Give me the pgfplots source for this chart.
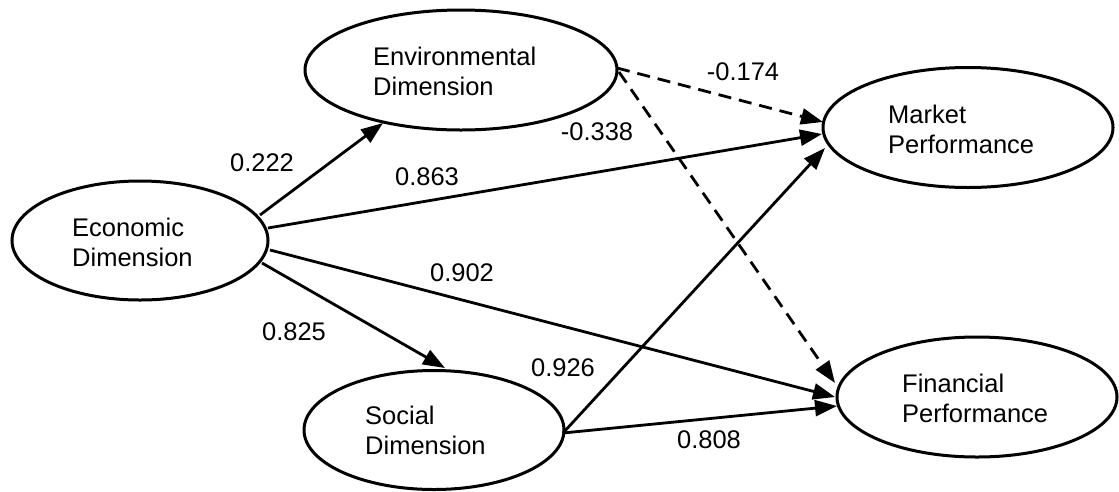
\documentclass[border=0pt]{standalone}
\usepackage{pgfplots}
\pgfplotsset{compat=1.18}
\usepackage{fontspec}
\setmainfont{Liberation Sans}
\usetikzlibrary{arrows.meta}

\begin{document}
\begin{tikzpicture}
\begin{axis}[
  width=1119pt, height=491pt, scale only axis,
  xmin=0, xmax=1119, ymin=0, ymax=491, y dir=reverse,
  hide axis, clip=false,
  pathline/.style={line width=2.8pt, black, mark=none, solid,
     -{Triangle[length=22pt,width=16pt]}},
  dashline/.style={pathline, dash pattern=on 13pt off 8pt},
]
\path (axis cs:0,0) rectangle (axis cs:1119,491);

% ellipses
\draw[line width=3pt] (axis cs:140,240.5) ellipse [x radius=128pt, y radius=59.5pt];
\draw[line width=3pt] (axis cs:461,70) ellipse [x radius=156pt, y radius=60pt];
\draw[line width=3pt] (axis cs:968,127.5) ellipse [x radius=145pt, y radius=60pt];
\draw[line width=3pt] (axis cs:434,430) ellipse [x radius=130pt, y radius=59.5pt];
\draw[line width=3pt] (axis cs:977,397) ellipse [x radius=140pt, y radius=60pt];

% paths
\addplot[pathline] coordinates {(260,215) (383,123)};
\addplot[pathline] coordinates {(268,228) (822,134)};
\addplot[pathline] coordinates {(270,250) (835,397)};
\addplot[pathline] coordinates {(262,263) (445,368)};
\addplot[dashline] coordinates {(617,68) (823,122)};
\addplot[dashline] coordinates {(619,72) (835,383)};
\addplot[pathline] coordinates {(563,433) (825,148)};
\addplot[pathline] coordinates {(563,433) (837,406)};

% node text
\begin{scope}[every node/.style={font=\fontsize{25.5}{30}\selectfont, inner sep=0pt, align=left, anchor=west}]
\node at (axis cs:72,242) {Economic\\Dimension};
\node at (axis cs:373,71) {Environmental\\Dimension};
\node at (axis cs:888,129) {Market\\Performance};
\node at (axis cs:365,430) {Social\\Dimension};
\node at (axis cs:902,398) {Financial\\Performance};
\end{scope}

% coefficients
\begin{scope}[every node/.style={font=\fontsize{25.5}{30}\selectfont, inner sep=0pt}]
\node at (axis cs:262,163) {0.222};
\node at (axis cs:427,177) {0.863};
\node at (axis cs:597,132) {-0.338};
\node at (axis cs:743,72) {-0.174};
\node at (axis cs:462,273) {0.902};
\node at (axis cs:294,332) {0.825};
\node at (axis cs:563,368) {0.926};
\node at (axis cs:709,440) {0.808};
\end{scope}
\end{axis}
\end{tikzpicture}
\end{document}
